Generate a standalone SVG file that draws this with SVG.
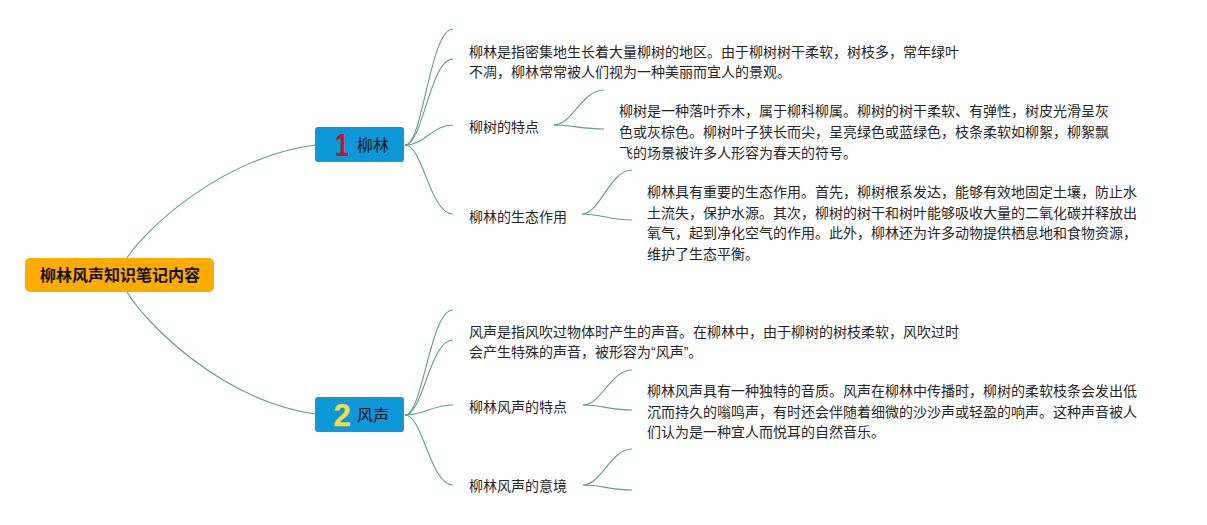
<svg xmlns="http://www.w3.org/2000/svg" width="1207" height="525" viewBox="0 0 1207 525">
<style>
.bg{fill:#ffffff}
.conn path{fill:none;stroke:#5f9e8c;stroke-width:1.1}
.root rect{fill:#ffab00}
.root text{font-family:"Noto Sans CJK SC","Noto Sans",sans-serif;font-size:16px;font-weight:bold;fill:#111}
.main rect{fill:#0d99d9}
.main .lbl{font-family:"Noto Sans CJK SC","Noto Sans",sans-serif;font-size:16px;fill:#111}
.num{font-family:"Liberation Sans","DejaVu Sans",sans-serif;font-size:31px;font-weight:bold}
.leaf text{font-family:"Noto Sans CJK SC","Noto Sans",sans-serif;font-size:14px;fill:#262626}
.q{font-family:"Liberation Sans",sans-serif}
</style>
<rect class="bg" x="0" y="0" width="1207" height="525"/>
<g id="connectors" class="conn">
<path d="M127,258 C145,230 220,158 315,145"/>
<path d="M127,292 C145,322 220,400 315,414"/>
<path d="M405,145 C423,145 430,29 453,29"/>
<path d="M405,145 C423,145 430,59 453,59"/>
<path d="M405,145 C425,145 432,125 453,125"/>
<path d="M405,145 C423,145 430,214 453,214"/>
<path d="M554,125 C572,125 582,90 604,90"/>
<path d="M554,125 C572,125 582,129 604,129"/>
<path d="M582,214 C600,214 610,170 632,170"/>
<path d="M582,214 C600,214 610,220 632,220"/>
<path d="M405,415 C423,415 430,310 453,310"/>
<path d="M405,415 C423,415 430,340 453,340"/>
<path d="M405,415 C425,415 432,405 453,405"/>
<path d="M405,415 C423,415 430,485 453,485"/>
<path d="M583,405 C601,405 611,370 632,370"/>
<path d="M583,405 C601,405 611,410 632,410"/>
<path d="M583,485 C601,485 611,449 632,449"/>
<path d="M583,485 C601,485 611,490 632,490"/>
</g>
<g id="root" class="root">
<rect x="25" y="258" width="189" height="34" rx="5"/>
<text x="120" y="281" text-anchor="middle">柳林风声知识笔记内容</text>
</g>
<g id="node1" class="main">
<rect x="315" y="127" width="89" height="35" rx="3"/>
<text class="num" x="342" y="156" text-anchor="middle" fill="#d0102a" transform="translate(342 0) scale(0.8 1) translate(-342 0)">1</text>
<text class="lbl" x="357" y="151">柳林</text>
</g>
<g id="node2" class="main">
<rect x="315" y="397" width="89" height="35" rx="3"/>
<text class="num" x="342" y="426" text-anchor="middle" fill="#f5dc4a" stroke="#e8c83a" stroke-width="0.5">2</text>
<text class="lbl" x="357" y="421">风声</text>
</g>
<g id="n1c1" class="leaf">
<text x="469" y="57">柳林是指密集地生长着大量柳树的地区。由于柳树树干柔软，树枝多，常年绿叶</text>
<text x="469" y="77">不凋，柳林常常被人们视为一种美丽而宜人的景观。</text>
</g>
<g id="n1c2" class="leaf">
<text x="469" y="132">柳树的特点</text>
</g>
<g id="n1c2d" class="leaf">
<text x="619" y="116">柳树是一种落叶乔木，属于柳科柳属。柳树的树干柔软、有弹性，树皮光滑呈灰</text>
<text x="619" y="137">色或灰棕色。柳树叶子狭长而尖，呈亮绿色或蓝绿色，枝条柔软如柳絮，柳絮飘</text>
<text x="619" y="158">飞的场景被许多人形容为春天的符号。</text>
</g>
<g id="n1c3" class="leaf">
<text x="469" y="222">柳林的生态作用</text>
</g>
<g id="n1c3d" class="leaf">
<text x="647" y="197">柳林具有重要的生态作用。首先，柳树根系发达，能够有效地固定土壤，防止水</text>
<text x="647" y="217.5">土流失，保护水源。其次，柳树的树干和树叶能够吸收大量的二氧化碳并释放出</text>
<text x="647" y="238">氧气，起到净化空气的作用。此外，柳林还为许多动物提供栖息地和食物资源，</text>
<text x="647" y="258.5">维护了生态平衡。</text>
</g>
<g id="n2c1" class="leaf">
<text x="469" y="337">风声是指风吹过物体时产生的声音。在柳林中，由于柳树的树枝柔软，风吹过时</text>
<text x="469" y="357">会产生特殊的声音，被形容为<tspan class="q">“</tspan>风声<tspan class="q">”</tspan>。</text>
</g>
<g id="n2c2" class="leaf">
<text x="469" y="412">柳林风声的特点</text>
</g>
<g id="n2c2d" class="leaf">
<text x="647" y="396">柳林风声具有一种独特的音质。风声在柳林中传播时，柳树的柔软枝条会发出低</text>
<text x="647" y="417">沉而持久的嗡鸣声，有时还会伴随着细微的沙沙声或轻盈的响声。这种声音被人</text>
<text x="647" y="437">们认为是一种宜人而悦耳的自然音乐。</text>
</g>
<g id="n2c3" class="leaf">
<text x="469" y="491">柳林风声的意境</text>
</g>
</svg>
